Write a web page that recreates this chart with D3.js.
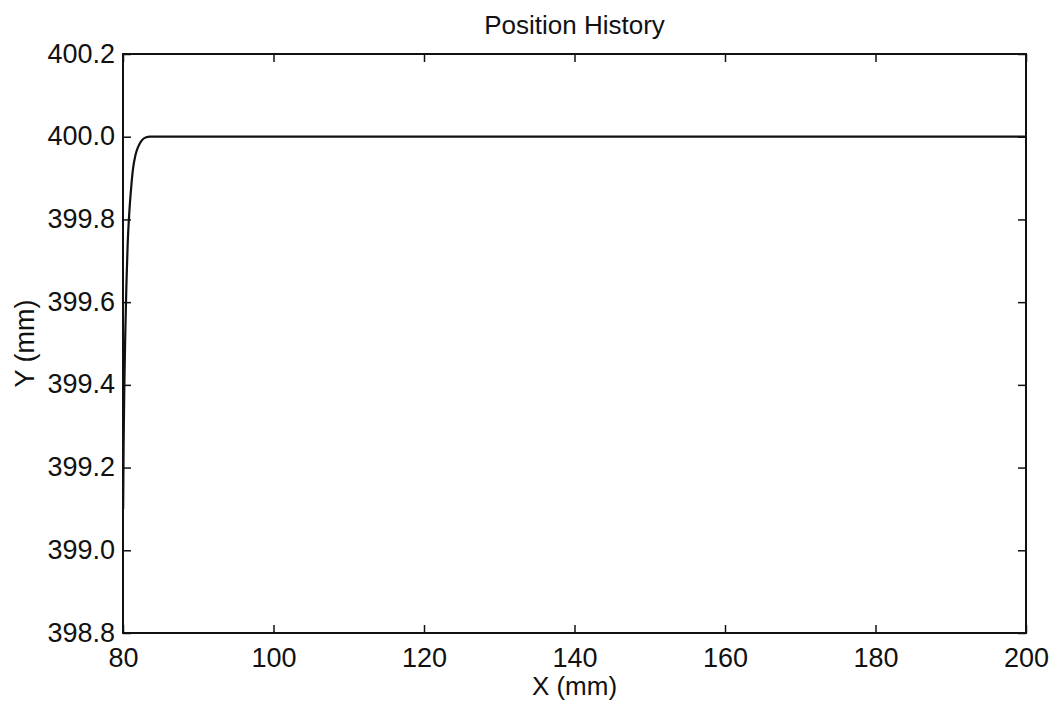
<!DOCTYPE html>
<html>
<head>
<meta charset="utf-8">
<script src="https://cdn.jsdelivr.net/npm/d3@7"></script>
<style>
body { margin: 0; background: #ffffff; }
text { font-family: "Liberation Sans", Arial, sans-serif; fill: #111; }
</style>
</head>
<body>
<div id="chart"></div>
<script>
// DATA -----------------------------------------------------
var pos_x = [80.02, 80.08, 80.18, 80.3, 80.45, 80.62, 80.85, 81.1, 81.35, 81.65, 82.0, 82.45, 83.0, 83.6, 90, 120, 160, 200];
var pos_y = [399.1, 399.25, 399.4, 399.52, 399.64, 399.74, 399.82, 399.88, 399.925, 399.955, 399.975, 399.99, 399.998, 400.0, 400.0, 400.0, 400.0, 400.0];
var x_ticks = [80, 100, 120, 140, 160, 180, 200];
var y_ticks = [398.8, 399.0, 399.2, 399.4, 399.6, 399.8, 400.0, 400.2];

// STRUCTURE ------------------------------------------------
var W = 1053, H = 704;
var m = { left: 123, right: 27, top: 54, bottom: 71 };
var pw = W - m.left - m.right;
var ph = H - m.top - m.bottom;

var svg = d3.select("#chart").append("svg")
  .attr("width", W).attr("height", H)
  .style("background", "#ffffff");

var g = svg.append("g").attr("transform", "translate(" + m.left + "," + m.top + ")");

var x = d3.scaleLinear().domain([80, 200]).range([0, pw]);
var y = d3.scaleLinear().domain([398.8, 400.2]).range([ph, 0]);

// axes -----------------------------------------------------
function styleAxis(a) {
  a.select(".domain").remove();
  a.selectAll(".tick line").attr("stroke", "#111").attr("stroke-width", 1.5);
}
g.append("g").attr("transform", "translate(0," + ph + ")")
  .call(d3.axisBottom(x).tickValues(x_ticks).tickSize(-8).tickPadding(15).tickFormat(d3.format("d")))
  .call(styleAxis)
  .selectAll("text").style("font-size", "27px").attr("dy", "0.71em");
g.append("g")
  .call(d3.axisTop(x).tickValues(x_ticks).tickSize(-8).tickFormat(""))
  .call(styleAxis);
g.append("g")
  .call(d3.axisLeft(y).tickValues(y_ticks).tickSize(-8).tickPadding(8).tickFormat(d3.format(".1f")))
  .call(styleAxis)
  .selectAll("text").style("font-size", "27px").attr("dy", "0.3em");
g.append("g").attr("transform", "translate(" + pw + ",0)")
  .call(d3.axisRight(y).tickValues(y_ticks).tickSize(-8).tickFormat(""))
  .call(styleAxis);

// box
g.append("rect")
  .attr("x", 0).attr("y", 0).attr("width", pw).attr("height", ph)
  .attr("fill", "none").attr("stroke", "#111").attr("stroke-width", 2);

// GFX ------------------------------------------------------
var pts = pos_x.map(function(d, i) { return [d, pos_y[i]]; });
var line = d3.line()
  .x(function(d) { return x(d[0]); })
  .y(function(d) { return y(d[1]); })
  .curve(d3.curveMonotoneX);
g.append("path")
  .datum(pts)
  .attr("d", line)
  .attr("fill", "none")
  .attr("stroke", "#111")
  .attr("stroke-width", 2.2);

// TEXT -----------------------------------------------------
svg.append("text")
  .attr("x", m.left + pw / 2).attr("y", 34)
  .attr("text-anchor", "middle")
  .style("font-size", "26px")
  .text("Position History");
svg.append("text")
  .attr("x", m.left + pw / 2).attr("y", 695)
  .attr("text-anchor", "middle")
  .style("font-size", "26px")
  .text("X (mm)");
svg.append("text")
  .attr("transform", "translate(34," + (m.top + ph / 2) + ") rotate(-90)")
  .attr("text-anchor", "middle")
  .style("font-size", "27px")
  .text("Y (mm)");
</script>
</body>
</html>
